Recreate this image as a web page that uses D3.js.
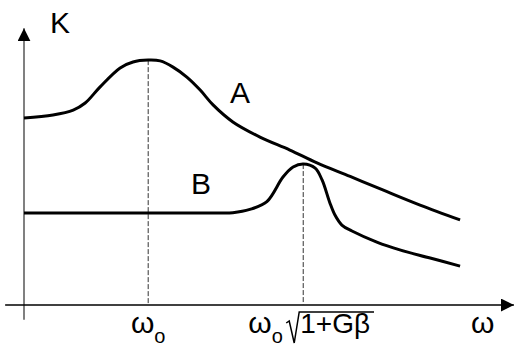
<!DOCTYPE html>
<html>
<head>
<meta charset="utf-8">
<script src="https://cdn.jsdelivr.net/npm/d3@7"></script>
<style>
  body { margin: 0; background: #fff; }
  text { font-family: "Liberation Sans", Arial, sans-serif; fill: #000; }
</style>
</head>
<body>
<svg id="chart"></svg>
<script>
// curve A: [omega, K]  (both in 0..100 chart units)
const curveA = [[0,69.3],[6.3,70.4],[10.7,72.2],[13.3,74.8],[16.5,80.7],[20.9,87.8],[23.7,90],
  [27,90.7],[29.6,90.4],[32.4,88.1],[35.4,84.4],[38.3,79.6],[41.1,74.1],[45.4,67.8],[51.3,62.2],
  [57.8,57.4],[63.7,52.6],[70.9,47.6],[78,42.6],[86.1,37],[94.8,31.5]];
// curve B
const curveB = [[0,34.1],[30,34.1],[42,34.1],[45.4,34.2],[49.1,35.4],[52.8,38.3],[56.3,47.4],[58.5,51.1],[60.7,52.2],
  [63.3,50.7],[64.8,46.3],[66.5,37.8],[67.6,33.3],[69.1,29.6],[71.3,27.4],[76.7,23.3],
  [81.7,20.4],[88.3,17.4],[94.8,14.4]];
const peaks = [[27,90.7],[60.7,52.2]];
const curveLabels = [{text: "A", x: 45, y: 75}, {text: "B", x: 36.5, y: 41}];
const xTicks = [27, 60.7, 99.7];

const width = 515, height = 346;
const svg = d3.select("#chart").attr("width", width).attr("height", height);

const x = d3.scaleLinear().domain([0, 100]).range([24, 484]);
const y = d3.scaleLinear().domain([0, 100]).range([305, 35]);

// arrowhead
svg.append("defs").append("marker")
    .attr("id", "arrow")
    .attr("viewBox", "0 0 10 10")
    .attr("refX", 10).attr("refY", 5)
    .attr("markerWidth", 13).attr("markerHeight", 13)
    .attr("markerUnits", "userSpaceOnUse")
    .attr("orient", "auto")
  .append("path")
    .attr("d", "M0,0 L10,5 L0,10 Z")
    .attr("fill", "#000");

// axes
svg.append("line")
    .attr("x1", x(0)).attr("x2", x(0))
    .attr("y1", y(-5.5)).attr("y2", y(102.5))
    .attr("stroke", "#808080").attr("stroke-width", 2)
    .attr("marker-end", "url(#arrow)");
svg.append("line")
    .attr("x1", x(-4.1)).attr("x2", x(106.5))
    .attr("y1", y(0)).attr("y2", y(0))
    .attr("stroke", "#000").attr("stroke-width", 1.6)
    .attr("marker-end", "url(#arrow)");

// dashed drop lines from the peaks
svg.selectAll(".drop")
  .data(peaks)
  .enter().append("line")
    .attr("class", "drop")
    .attr("x1", d => x(d[0])).attr("x2", d => x(d[0]))
    .attr("y1", d => y(d[1])).attr("y2", y(0))
    .attr("stroke", "#333").attr("stroke-width", 1)
    .attr("stroke-dasharray", "5,2");

// curves
const line = d3.line()
    .x(d => x(d[0]))
    .y(d => y(d[1]))
    .curve(d3.curveCatmullRom.alpha(0.5));

svg.selectAll(".curve")
  .data([curveA, curveB])
  .enter().append("path")
    .attr("class", "curve")
    .attr("d", line)
    .attr("fill", "none")
    .attr("stroke", "#000")
    .attr("stroke-width", 3);

// curve names
svg.selectAll(".clabel")
  .data(curveLabels)
  .enter().append("text")
    .attr("class", "clabel")
    .attr("x", d => x(d.x) - 1)
    .attr("y", d => y(d.y))
    .style("font-size", "30px")
    .text(d => d.text);

// axis name K
svg.append("text")
    .attr("x", 50).attr("y", 33)
    .style("font-size", "30px")
    .text("K");

// tick labels
const base = 333;
// omega_o
let t1 = svg.append("text").attr("x", x(xTicks[0])).attr("y", base)
    .attr("text-anchor", "middle").style("font-size", "30px");
t1.append("tspan").text("ω");
t1.append("tspan").attr("dy", 10).style("font-size", "20px").text("o");

// omega_o sqrt(1+G beta)
let t2 = svg.append("text").attr("x", x(xTicks[1]) - 55).attr("y", base).style("font-size", "30px");
t2.append("tspan").text("ω");
t2.append("tspan").attr("dy", 10).style("font-size", "20px").text("o");
let rx = x(xTicks[1]) - 3;
let rad = svg.append("text").attr("x", rx).attr("y", base)
    .style("font-size", "28px").text("1+Gβ");
let rw = rad.node().getComputedTextLength();
svg.append("path")
    .attr("d", `M${rx-14},${base-10} L${rx-11},${base-12} L${rx-6},${base+10} L${rx-1},${base-21} L${rx+rw+4},${base-21}`)
    .attr("fill", "none")
    .attr("stroke", "#000")
    .attr("stroke-width", 1.5);

// omega
svg.append("text").attr("x", x(xTicks[2])).attr("y", base)
    .attr("text-anchor", "middle").style("font-size", "30px").text("ω");
</script>
</body>
</html>
